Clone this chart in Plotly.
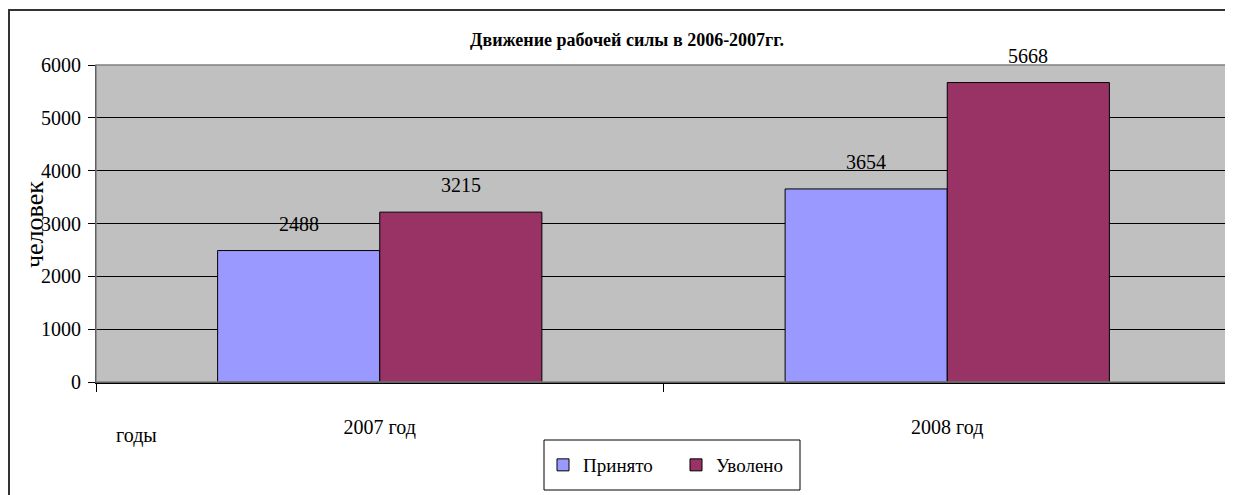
import plotly.graph_objects as go

categories = ["2007 год", "2008 год"]
prinyato = [2488, 3654]
uvoleno = [3215, 5668]
series_names = ["Принято", "Уволено"]
y_ticks = [0, 1000, 2000, 3000, 4000, 5000, 6000]

FONT = "Liberation Serif"

# page has an 8px body margin; figure coords = page coords - 8
W, H = 1225, 487
L, T, R, B = 88, 57, 2, 113
PW, PH = W - L - R, H - T - B


def px(xf):
    return (xf - L) / PW


def py(yf):
    return (H - B - yf) / PH


fig = go.Figure()
fig.add_trace(go.Bar(x=categories, y=prinyato, name=series_names[0],
                     marker=dict(color="#9999FF", line=dict(color="black", width=1))))
fig.add_trace(go.Bar(x=categories, y=uvoleno, name=series_names[1],
                     marker=dict(color="#993366", line=dict(color="black", width=1))))

annotations = []
for trace_idx, vals in enumerate((prinyato, uvoleno)):
    for i, v in enumerate(vals):
        annotations.append(dict(
            x=i, y=v, xref="x", yref="y", text=str(v), showarrow=False,
            xshift=(-81 if trace_idx == 0 else 81), yshift=14, yanchor="bottom",
            font=dict(family=FONT, size=20, color="black")))

annotations.append(dict(x=px(34 - 8), y=py(225 - 8), xref="paper", yref="paper", text="человек",
                        textangle=-90, showarrow=False, xanchor="center", yanchor="middle",
                        font=dict(family=FONT, size=26, color="black")))
annotations.append(dict(x=px(136 - 8), y=py(435 - 8), xref="paper", yref="paper",
                        text="годы", showarrow=False, xanchor="center", yanchor="middle",
                        font=dict(family=FONT, size=20, color="black")))

fig.update_layout(
    width=W, height=H,
    margin=dict(l=L, r=R, t=T, b=B),
    paper_bgcolor="white", plot_bgcolor="#C0C0C0",
    barmode="group", bargap=0.4286, bargroupgap=0,
    title=dict(text="<b>Движение рабочей силы в 2006-2007гг.</b>", x=(627 - 8) / W, xanchor="center",
               y=1 - (40 - 8) / H, yanchor="middle",
               font=dict(family=FONT, size=18, color="black")),
    font=dict(family=FONT, size=20, color="black"),
    showlegend=True,
    legend=dict(orientation="h", x=px((676 - 8)), y=py(465 - 8),
                xanchor="center", yanchor="middle", borderwidth=0,
                bgcolor="rgba(0,0,0,0)", font=dict(family=FONT, size=19, color="black"),
                entrywidth=88, itemwidth=30),
    annotations=annotations,
    shapes=[
        dict(type="rect", xref="paper", yref="paper", x0=0, x1=1, y0=0, y1=1,
             line=dict(color="#808080", width=1.5), layer="above"),
        dict(type="rect", xref="paper", yref="paper", x0=px(1), x1=1.05,
             y0=-0.6, y1=py(2), line=dict(color="#333333", width=2)),
        dict(type="rect", xref="paper", yref="paper", x0=px(544 - 8), x1=px(800 - 8),
             y0=py(490 - 8), y1=py(440 - 8), line=dict(color="black", width=1),
             fillcolor="white", layer="below"),
    ],
)
fig.update_xaxes(type="category", range=[-0.5, 1.5], tickson="boundaries",
                 ticks="outside", ticklen=8, tickcolor="black", showline=True,
                 linecolor="black", linewidth=1.5, showgrid=False,
                 ticklabelstandoff=26, tickfont=dict(family=FONT, size=20, color="black"))
fig.update_yaxes(range=[0, 6000], tickvals=y_ticks, ticks="outside", ticklen=7,
                 tickcolor="black", showline=True, linecolor="black", linewidth=1,
                 showgrid=True, gridcolor="black", gridwidth=1, zeroline=False,
                 ticklabelstandoff=3,
                 tickfont=dict(family=FONT, size=20, color="black"))

fig.write_html("out.html")
